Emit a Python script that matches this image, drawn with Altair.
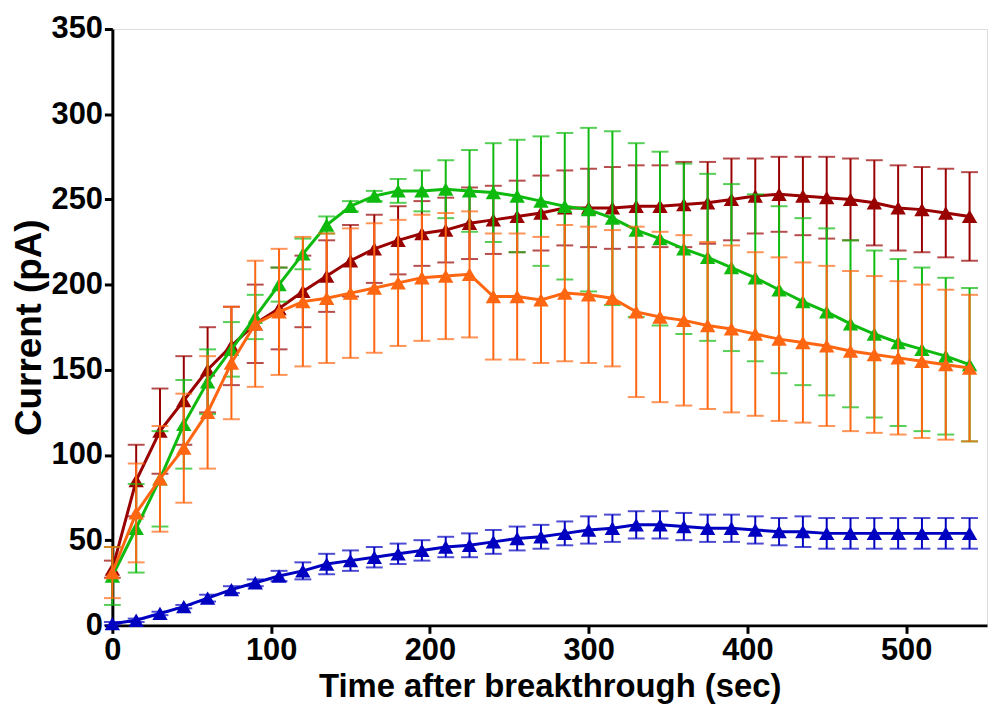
import altair as alt
import pandas as pd

time_s = [0, 15, 30, 45, 60, 75, 90, 105, 120, 135, 150, 165, 180, 195, 210, 225,
          240, 255, 270, 285, 300, 315, 330, 345, 360, 375, 390, 405, 420, 435,
          450, 465, 480, 495, 510, 525, 540]

maroon_mean = [33, 85, 114, 132, 150, 164, 177, 186, 196, 205, 214, 221, 226, 230, 232, 236,
               238, 240, 242, 245, 245, 245, 246, 246, 247, 248, 250, 252, 253, 252,
               251, 250, 248, 245, 244, 242, 240]
maroon_err = [5, 21, 25, 26, 25, 23, 23, 24, 21, 21, 21, 20, 20, 19, 19, 21,
              20, 21, 22, 22, 23, 24, 24, 24, 25, 24, 24, 22, 22, 23,
              24, 24, 25, 25, 25, 26, 26]

orange_mean = [31, 66, 86, 104, 125, 154, 177, 184, 190, 192, 195, 198, 201, 204, 205, 206,
               193, 193, 191, 195, 194, 192, 184, 181, 179, 176, 174, 171, 168, 166,
               164, 161, 159, 157, 155, 153, 151]
orange_err = [15, 29, 31, 32, 33, 33, 37, 37, 38, 38, 38, 38, 37, 37, 37, 37,
              37, 37, 37, 40, 40, 40, 50, 50, 50, 49, 49, 48, 48, 47,
              47, 47, 46, 45, 45, 44, 43]

green_mean = [29, 57, 86, 118, 143, 162, 181, 200, 218, 235, 246, 252, 255, 255, 256, 255,
              254, 252, 249, 246, 244, 239, 232, 227, 221, 216, 210, 204, 197, 190,
              184, 177, 171, 166, 162, 158, 153]
green_err = [17, 26, 28, 26, 19, 16, 13, 10, 9, 5, 3, 3, 7, 12, 17, 24,
             29, 33, 38, 43, 48, 51, 51, 51, 50, 49, 49, 49, 49, 49,
             49, 49, 49, 49, 48, 46, 45]

blue_mean = [1, 3, 7, 11, 16, 21, 25, 29, 32, 36, 38, 40, 42, 44, 46, 47,
             49, 51, 52, 54, 56, 57, 59, 59, 58, 57, 57, 56, 55, 55,
             54, 54, 54, 54, 54, 54, 54]
blue_err = [1, 1, 1, 1, 2, 2, 2, 3, 5, 6, 6, 6, 6, 6, 6, 7,
            7, 7, 7, 7, 8, 8, 8, 8, 8, 8, 8, 8, 8, 9,
            9, 9, 9, 9, 9, 9, 9]

series = [
    ("A", maroon_mean, maroon_err, "#990000"),
    ("C", green_mean, green_err, "#0FBA0F"),
    ("B", orange_mean, orange_err, "#FF6611"),
    ("D", blue_mean, blue_err, "#0000C0"),
]

x_ticks = [0, 100, 200, 300, 400, 500]
y_ticks = [0, 50, 100, 150, 200, 250, 300, 350]

x_scale = alt.Scale(domain=[0, 551], nice=False, zero=False)
y_scale = alt.Scale(domain=[0, 350], nice=False)

font = "Liberation Sans, Arial, sans-serif"
x_axis = alt.Axis(title="Time after breakthrough (sec)", values=x_ticks,
                  grid=False, labelFont=font, labelFontSize=31,
                  labelFontWeight="bold", titleFont=font, titleFontSize=33,
                  titleFontWeight="bold", labelColor="black", titleColor="black",
                  domainColor="black", domainWidth=3, tickColor="black", tickWidth=3,
                  tickSize=8, labelPadding=2, titlePadding=6, labelFlush=False)
y_axis = alt.Axis(title="Current (pA)", values=y_ticks,
                  grid=False, labelFont=font, labelFontSize=31,
                  labelFontWeight="bold", titleFont=font, titleFontSize=37,
                  titleFontWeight="bold", labelColor="black", titleColor="black",
                  domainColor="black", domainWidth=3, tickColor="black", tickWidth=3,
                  tickSize=8, labelPadding=2, titlePadding=3, labelFlush=False)

layers = []
first = True
for name, mean, err, color in series:
    df = pd.DataFrame({
        "t": time_s,
        "m": mean,
        "lo": [m - e for m, e in zip(mean, err)],
        "hi": [m + e for m, e in zip(mean, err)],
    })
    base = alt.Chart(df)
    if first:
        rule = base.mark_rule(color=color, strokeWidth=2).encode(
            x=alt.X("t:Q", scale=x_scale, axis=x_axis),
            y=alt.Y("lo:Q", scale=y_scale, axis=y_axis),
            y2="hi:Q")
    else:
        rule = base.mark_rule(color=color, strokeWidth=2).encode(
            x=alt.X("t:Q", scale=x_scale),
            y=alt.Y("lo:Q", scale=y_scale),
            y2="hi:Q")
    cap_lo = base.mark_tick(color=color, orient="horizontal", size=17, thickness=2).encode(
        x=alt.X("t:Q", scale=x_scale), y=alt.Y("lo:Q", scale=y_scale))
    cap_hi = base.mark_tick(color=color, orient="horizontal", size=17, thickness=2).encode(
        x=alt.X("t:Q", scale=x_scale), y=alt.Y("hi:Q", scale=y_scale))
    line = base.mark_line(color=color, strokeWidth=3).encode(
        x=alt.X("t:Q", scale=x_scale), y=alt.Y("m:Q", scale=y_scale))
    pts = base.mark_point(shape="triangle-up", filled=True, color=color, size=240, opacity=1).encode(
        x=alt.X("t:Q", scale=x_scale), y=alt.Y("m:Q", scale=y_scale))
    layers += [rule, cap_lo, cap_hi, line, pts]
    first = False

chart = alt.layer(*layers).properties(
    width=880, height=600,
    autosize=alt.AutoSizeParams(type="none"),
    padding={"left": 105, "top": 19, "right": 5, "bottom": 86},
).configure_view(stroke=None).configure(background="white")

chart.save("out.html", embed_options={"renderer": "svg", "actions": False})
